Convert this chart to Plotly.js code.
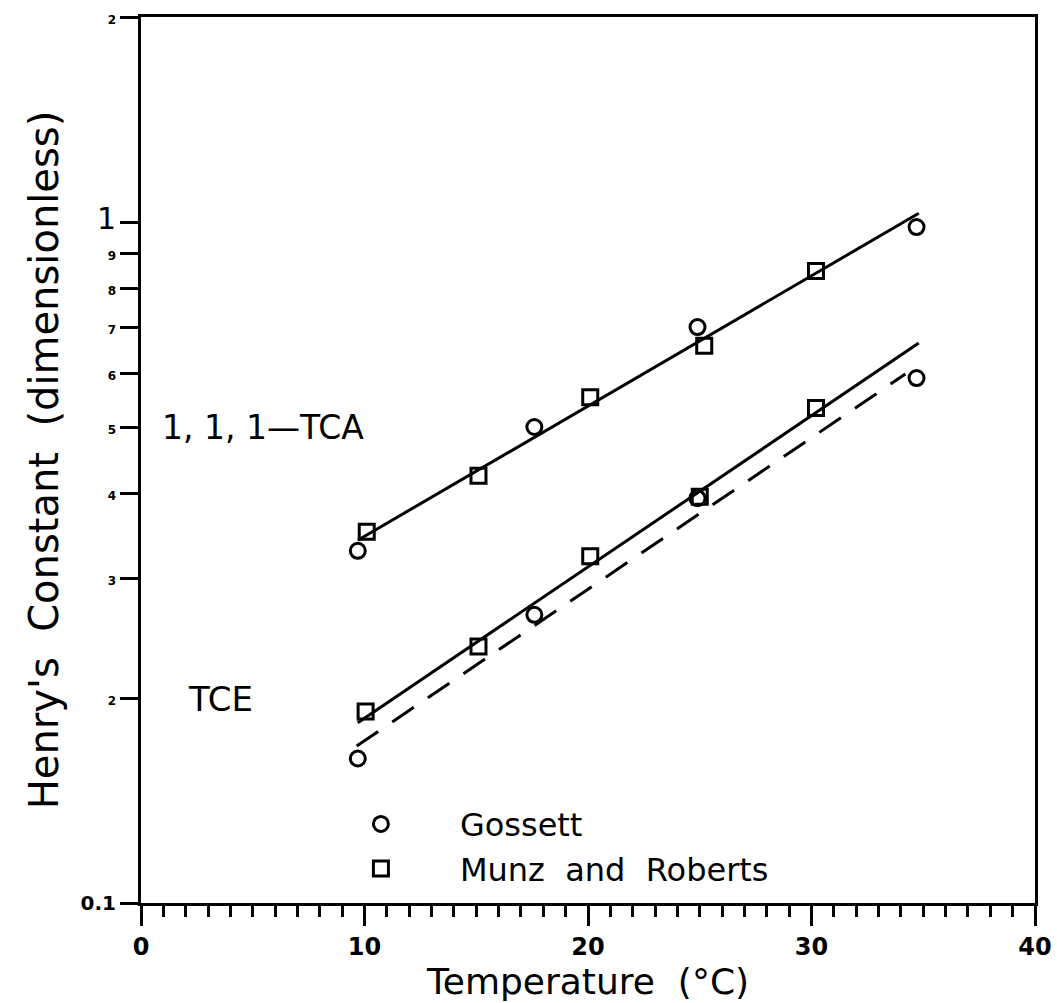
<!DOCTYPE html>
<html>
<head>
<meta charset="utf-8">
<script src="https://cdn.plot.ly/plotly-3.0.1.min.js"></script>
<style>html,body{margin:0;padding:0;background:#fff;}#chart{width:1057px;height:1003px;}</style>
</head>
<body>
<div id="chart"></div>
<script>
// ---- data ----
// 1,1,1-TCA
const tcaGossettT = [9.7, 17.6, 24.9, 34.7];
const tcaGossettH = [0.329, 0.500, 0.701, 0.983];
const tcaMunzT = [10.1, 15.1, 20.1, 25.2, 30.2];
const tcaMunzH = [0.351, 0.424, 0.553, 0.658, 0.847];
const tcaFitT = [9.7, 34.8];
const tcaFitH = [0.341, 1.03];
// TCE
const tceGossettT = [9.7, 17.6, 24.9, 34.7];
const tceGossettH = [0.163, 0.265, 0.393, 0.590];
const tceMunzT = [10.05, 15.1, 20.1, 25.0, 30.2];
const tceMunzH = [0.191, 0.238, 0.323, 0.395, 0.533];
const tceMunzFitT = [9.7, 34.8];
const tceMunzFitH = [0.184, 0.664];
const tceGossettFitT = [9.65, 34.2];
const tceGossettFitH = [0.170, 0.598];
// axis ticks
const yTickVals = [0.1, 0.2, 0.3, 0.4, 0.5, 0.6, 0.7, 0.8, 0.9, 1, 2];
const yTickText = ["<b>0.1</b>", "<b style='font-size:12px'>2</b>", "<b style='font-size:12px'>3</b>",
  "<b style='font-size:12px'>4</b>", "<b style='font-size:12px'>5</b>", "<b style='font-size:12px'>6</b>",
  "<b style='font-size:12px'>7</b>", "<b style='font-size:12px'>8</b>", "<b style='font-size:12px'>9</b>",
  "<span style='font-size:30px'>1</span>", "<b style='font-size:12px'>2</b>"];
const xTickVals = [0, 10, 20, 30, 40];

const FONT = "DejaVu Sans, sans-serif";
const circ = {symbol: 'circle-open', size: 15, color: '#000', line: {width: 3, color: '#000'}};
const sq = {symbol: 'square-open', size: 15, color: '#000', line: {width: 3, color: '#000'}};

const traces = [
  {x: tcaFitT, y: tcaFitH, mode: 'lines', line: {color: '#000', width: 3}, showlegend: false, hoverinfo: 'skip'},
  {x: tceMunzFitT, y: tceMunzFitH, mode: 'lines', line: {color: '#000', width: 3}, showlegend: false, hoverinfo: 'skip'},
  {x: tceGossettFitT, y: tceGossettFitH, mode: 'lines', line: {color: '#000', width: 3, dash: '26px,17px'}, showlegend: false, hoverinfo: 'skip'},
  {x: tcaGossettT, y: tcaGossettH, mode: 'markers', marker: circ, name: 'Gossett', legendgroup: 'g'},
  {x: tceGossettT, y: tceGossettH, mode: 'markers', marker: circ, name: 'Gossett', legendgroup: 'g', showlegend: false},
  {x: tcaMunzT, y: tcaMunzH, mode: 'markers', marker: sq, name: 'Munz  and  Roberts', legendgroup: 'm'},
  {x: tceMunzT, y: tceMunzH, mode: 'markers', marker: sq, name: 'Munz  and  Roberts', legendgroup: 'm', showlegend: false}
];

const layout = {
  width: 1057, height: 1003,
  margin: {l: 141, r: 22, t: 17, b: 100},
  paper_bgcolor: '#fff', plot_bgcolor: '#fff',
  font: {family: FONT, color: '#000'},
  showlegend: true,
  legend: {x: 0.18, y: 0.12, xanchor: 'left', yanchor: 'top', font: {family: FONT, size: 32, color: '#000'},
           bgcolor: 'rgba(0,0,0,0)', itemwidth: 148, tracegroupgap: 0},
  xaxis: {
    range: [0, 40], tickmode: 'array', tickvals: xTickVals, ticktext: xTickVals.map(v => '<b>' + v + '</b>'),
    ticks: 'outside', ticklen: 20, tickwidth: 3, tickcolor: '#000',
    minor: {dtick: 1, ticks: 'outside', ticklen: 11, tickwidth: 3, tickcolor: '#000', showgrid: false},
    showline: true, linewidth: 3, linecolor: '#000', mirror: true,
    showgrid: false, zeroline: false,
    tickfont: {family: FONT, size: 24, color: '#000'},
    title: {text: 'Temperature  (°C)', font: {family: FONT, size: 36, color: '#000'}, standoff: 10}
  },
  yaxis: {
    type: 'log', range: [-1, Math.log10(2)], tickmode: 'array', tickvals: yTickVals, ticktext: yTickText,
    ticks: 'outside', ticklen: 18, tickwidth: 3, tickcolor: '#000',
    showline: true, linewidth: 3, linecolor: '#000', mirror: true,
    showgrid: false, zeroline: false,
    tickfont: {family: FONT, size: 20, color: '#000'},
    title: {text: "Henry's  Constant  (dimensionless)", font: {family: FONT, size: 40, color: '#000'}, standoff: 10}
  },
  annotations: [
    {x: 5.45, y: Math.log10(0.5), xref: 'x', yref: 'y', text: '1, 1, 1\u2014TCA', showarrow: false,
     font: {family: FONT, size: 33, color: '#000'}},
    {x: 3.55, y: Math.log10(0.199), xref: 'x', yref: 'y', text: 'TCE', showarrow: false,
     font: {family: FONT, size: 34, color: '#000'}}
  ]
};

Plotly.newPlot('chart', traces, layout, {displayModeBar: false, staticPlot: true});
</script>
</body>
</html>
